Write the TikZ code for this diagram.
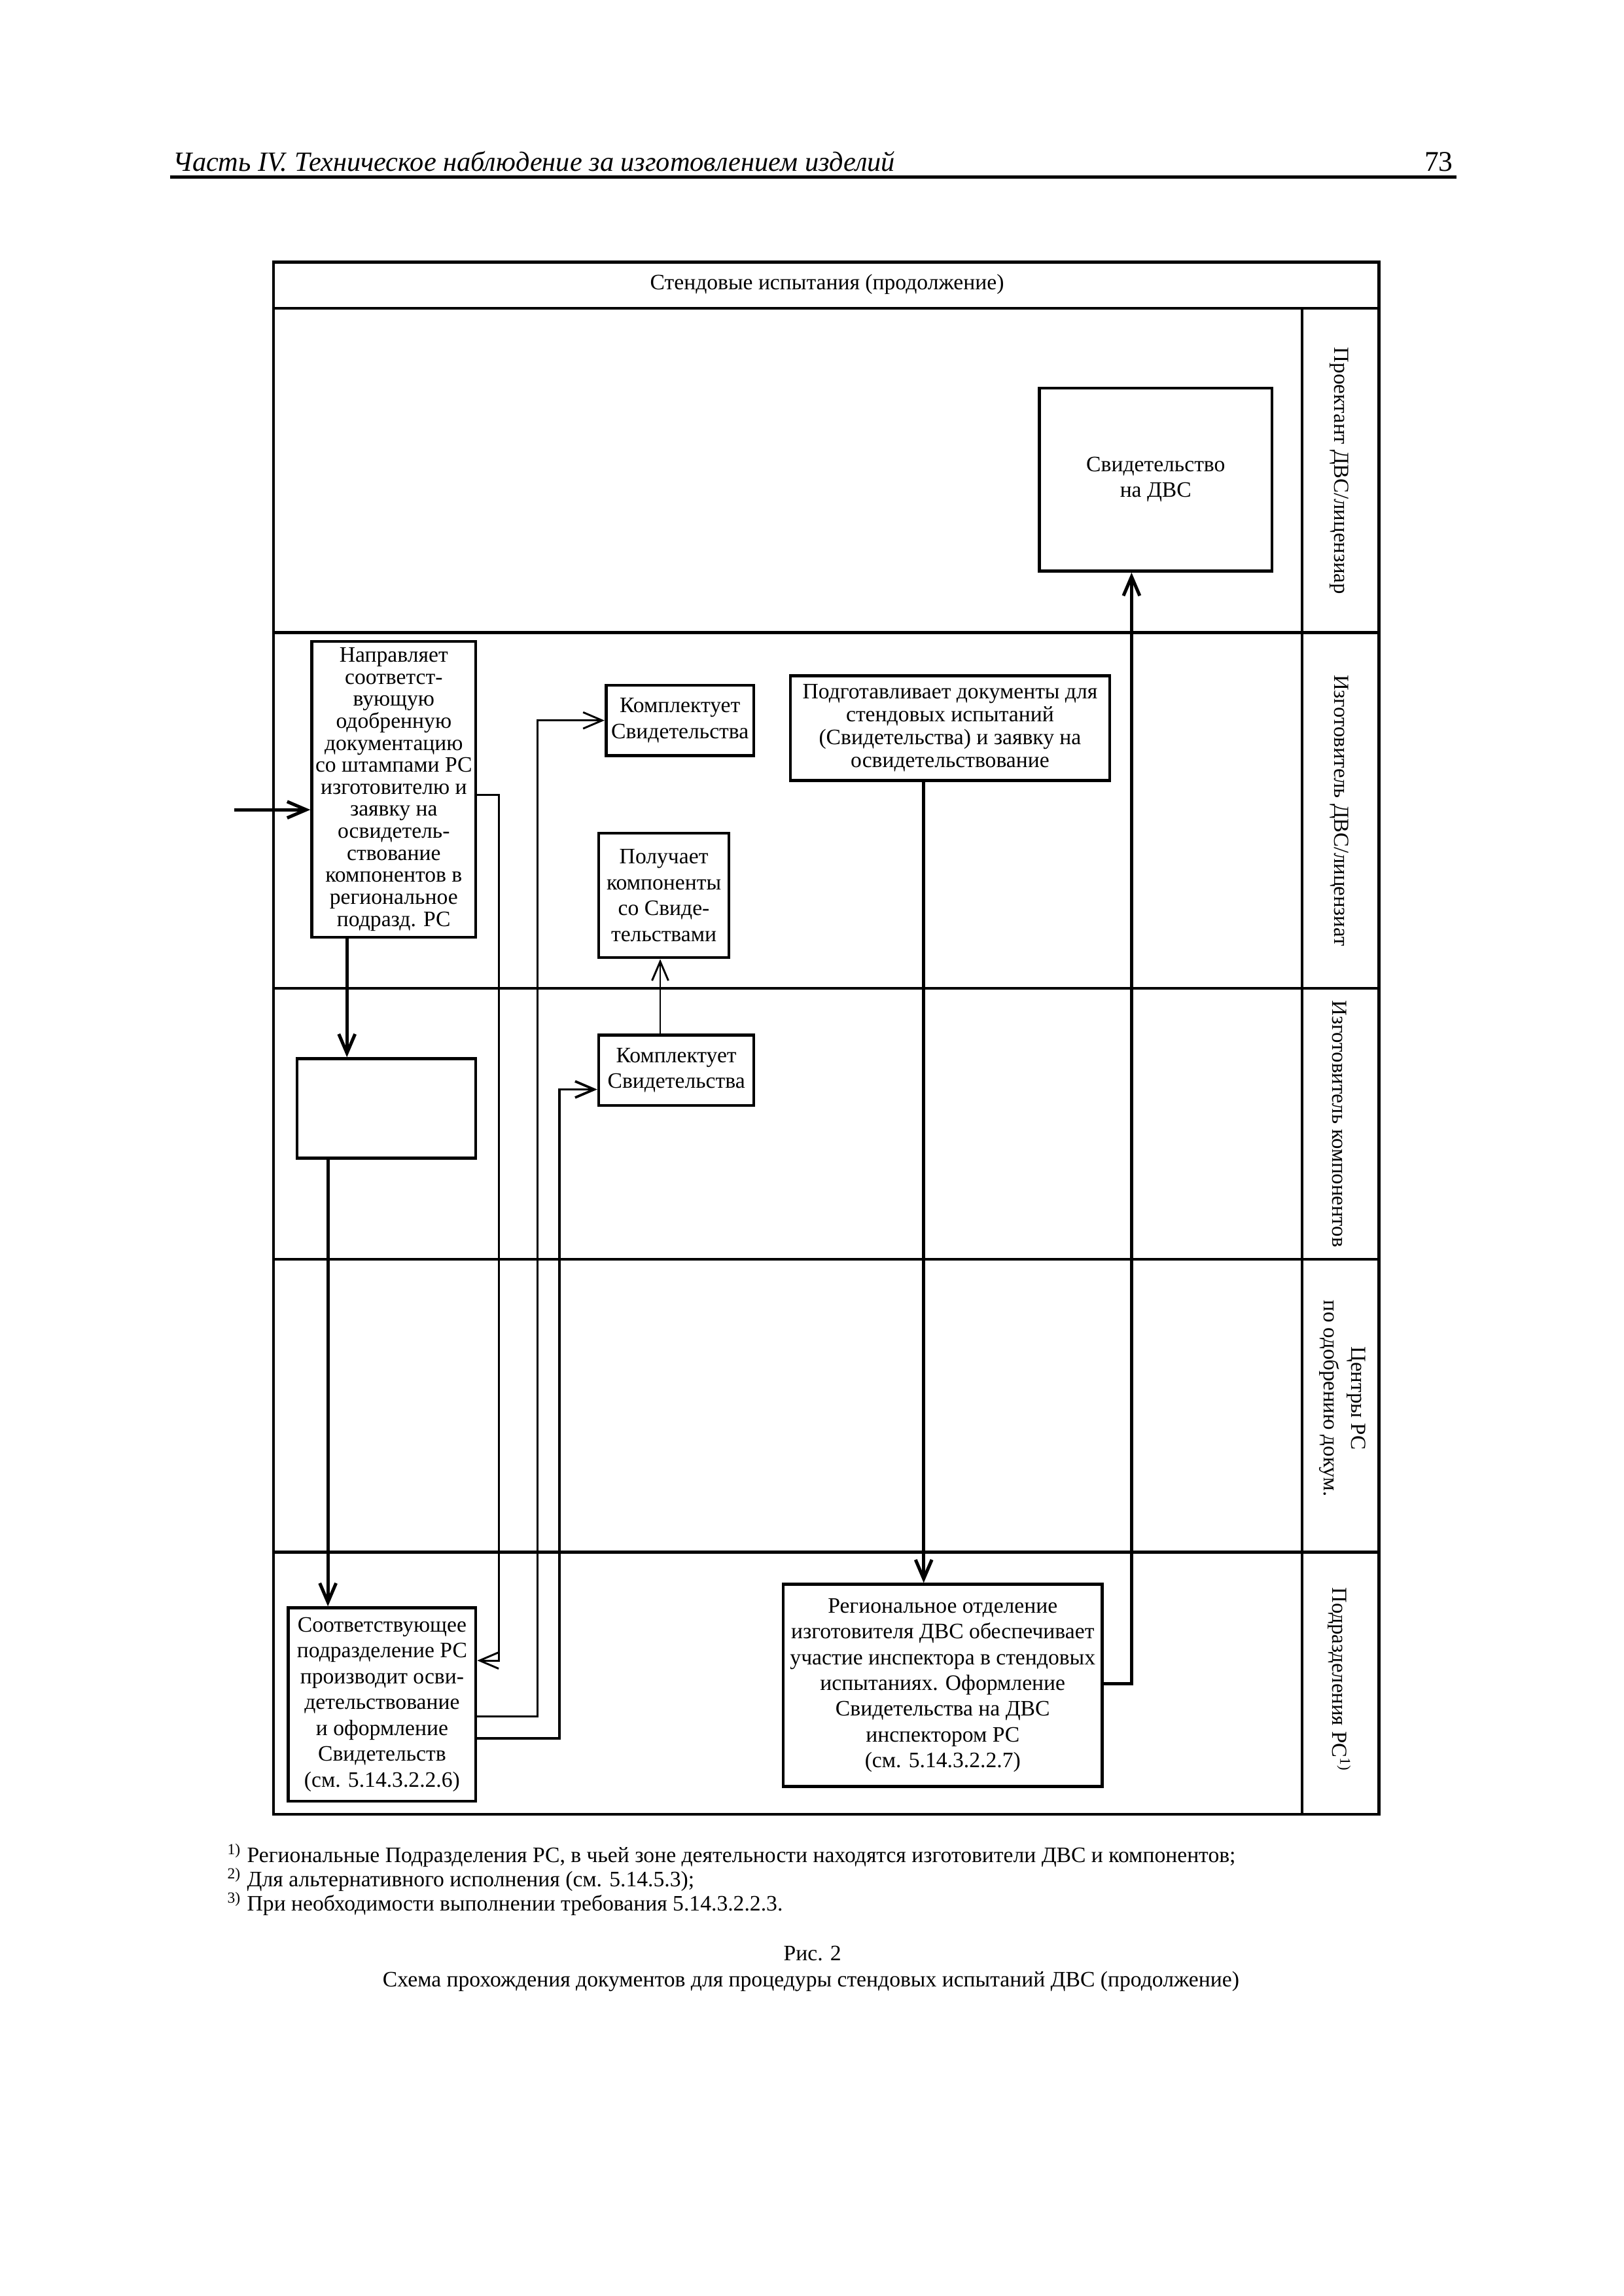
\documentclass[tikz,border=0pt]{standalone}
\usepackage{fontspec}
\setmainfont{Liberation Serif}
\usetikzlibrary{arrows.meta,calc}
\begin{document}
\begin{tikzpicture}[x=0.18936mm,y=-0.18936mm,
  sz/.style 2 args={minimum width=#1*0.18936mm,minimum height=#2*0.18936mm},
  box/.style={draw,line width=1.1pt,inner sep=0pt,align=center,font=\fontsize{8.1}{9.5}\selectfont},
  conn/.style={line width=0.7pt,-{Straight Barb[length=7pt,width=6pt]}},
  connT/.style={line width=1.2pt,-{Straight Barb[length=7pt,width=6pt]}},
  frameline/.style={line width=1pt},
  lanelabel/.style={rotate=-90,font=\fontsize{7.9}{10}\selectfont,align=center,inner sep=0pt},
  plain/.style={inner sep=0pt,font=\fontsize{8.1}{9}\selectfont}]

\useasboundingbox (0,0) rectangle (1109,1568);
\fill[white] (0,0) rectangle (1109,1568);

% running header
\node[inner sep=0pt,anchor=base west,font=\fontsize{10.2}{12}\selectfont\itshape] (hdr) at (118,117) {Часть IV. Техническое наблюдение за изготовлением изделий};
\node[inner sep=0pt,anchor=base east,font=\fontsize{10.5}{12}\selectfont] (pnum) at (993,117) {73};
\draw[line width=1.2pt] (116,121) -- (995,121);

% frame
\draw[frameline] (187,179) rectangle (942,1239);
\draw[frameline] (187,210.5) -- (942,210.5);
\draw[frameline] (889.5,210.5) -- (889.5,1239);
\foreach \yy in {432,675,860,1060} \draw[frameline] (187,\yy) -- (942,\yy);

\node[plain] (title) at (565,194) {Стендовые испытания (продолжение)};

% lane labels
\node[lanelabel] (l1) at (915,321.5) {Проектант ДВС/лицензиар};
\node[lanelabel] (l2) at (915,553.5) {Изготовитель ДВС/лицензиат};
\node[lanelabel] (l3) at (915,767.5) {Изготовитель компонентов};
\node[lanelabel] (l4) at (917,955) {Центры РС\\по одобрению докум.};
\node[lanelabel] (l5) at (915,1147) {Подразделения РС\textsuperscript{1)}};

% boxes
\node[box,sz={159}{125}] (svid) at (789.5,327.5) {Свидетельство\\на ДВС};
\node[box,sz={112}{202},font=\fontsize{8.1}{8.1}\selectfont] (napr) at (269,539) {Направляет\\соответст-\\вующую\\одобренную\\документацию\\со штампами РС\\изготовителю и\\заявку на\\освидетель-\\ствование\\компонентов в\\региональное\\подразд. РС};
\node[box,sz={101}{48}] (komp1) at (464.5,492) {Комплектует\\Свидетельства};
\node[box,sz={218}{71.5},font=\fontsize{8.1}{8.4}\selectfont] (podg) at (649,497.25) {Подготавливает документы для\\стендовых испытаний\\(Свидетельства) и заявку на\\освидетельствование};
\node[box,sz={89}{85}] (poluch) at (453.5,611.5) {Получает\\компоненты\\со Свиде-\\тельствами};
\node[box,sz={122}{68}] (empty) at (264,757) {};
\node[box,sz={106}{48}] (komp2) at (462,731) {Комплектует\\Свидетельства};
\node[box,sz={128}{132}] (sootv) at (261,1164) {Соответствующее\\подразделение РС\\производит осви-\\детельствование\\и оформление\\Свидетельств\\(см. 5.14.3.2.2.6)};
\node[box,sz={218}{138}] (region) at (644,1151) {Региональное отделение\\изготовителя ДВС обеспечивает\\участие инспектора в стендовых\\испытаниях. Оформление\\Свидетельства на ДВС\\инспектором РС\\(см. 5.14.3.2.2.7)};

% connectors
\coordinate (inS) at (160,553);
\draw[connT] (inS) -- (inS -| napr.west);

\coordinate (xA) at (237,0);
\draw[connT] (xA |- napr.south) -- (xA |- empty.north);

\coordinate (xB) at (224,0);
\draw[connT] (xB |- empty.south) -- (xB |- sootv.north);

\coordinate (xC) at (631,0);
\draw[connT] (xC |- podg.south) -- (xC |- region.north);

\coordinate (yD) at (0,1150);
\coordinate (xD) at (773,0);
\draw[connT] (yD -| region.east) -| (xD |- svid.south);

\coordinate (yE) at (0,543);
\coordinate (xE) at (341,0);
\coordinate (yE2) at (0,1134);
\draw[conn] (yE -| napr.east) -| (xE |- yE2) -- (yE2 -| sootv.east);

\coordinate (yF) at (0,1172);
\coordinate (xF) at (367,0);
\draw[conn] (yF -| sootv.east) -| (xF |- komp1.west) -- (komp1.west);

\coordinate (yG) at (0,1187);
\coordinate (xG) at (382,0);
\coordinate (yH) at (0,744);
\draw[conn,line width=0.9pt] (yG -| sootv.east) -| (xG |- yH) -- (yH -| komp2.west);

\coordinate (xH) at (451,0);
\draw[conn] (xH |- komp2.north) -- (xH |- poluch.south);

% footnotes and caption
\node[plain,anchor=north west,align=left,font=\fontsize{8.1}{8.9}\selectfont] (fn) at (155,1259) {\textsuperscript{1)} Региональные Подразделения РС, в чьей зоне деятельности находятся изготовители ДВС и компонентов;\\\textsuperscript{2)} Для альтернативного исполнения (см. 5.14.5.3);\\\textsuperscript{3)} При необходимости выполнении требования 5.14.3.2.2.3.};
\node[plain] (fig) at (555,1334) {Рис. 2};
\node[plain] (cap) at (554,1353) {Схема прохождения документов для процедуры стендовых испытаний ДВС (продолжение)};
\end{tikzpicture}
\end{document}
